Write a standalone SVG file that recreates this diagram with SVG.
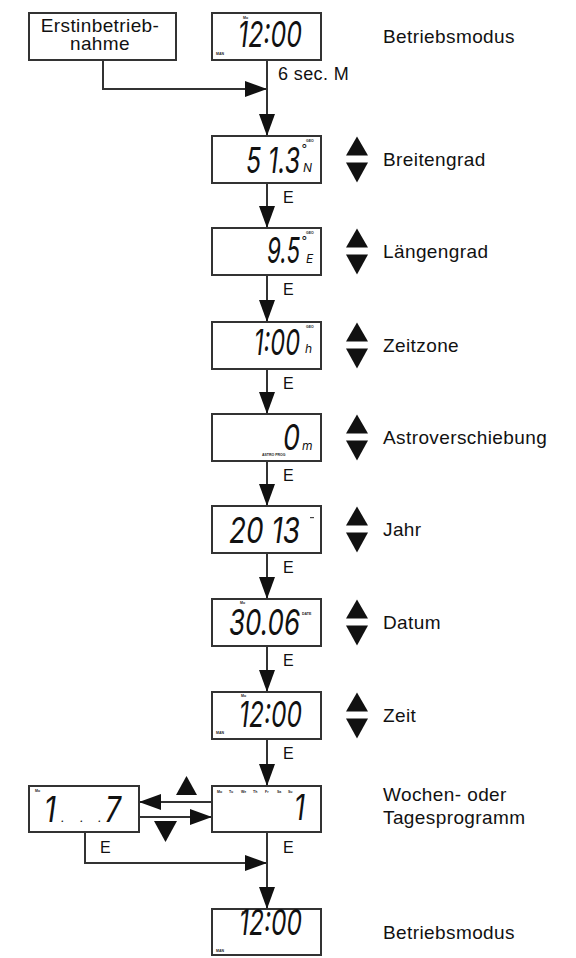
<svg xmlns="http://www.w3.org/2000/svg" xmlns:xlink="http://www.w3.org/1999/xlink" width="576" height="958" viewBox="0 0 576 958">
<style>
.box{fill:#fff;stroke:#333;stroke-width:2}
.ln{fill:none;stroke:#333;stroke-width:2}
.lbl{font-family:"Liberation Sans",Arial,sans-serif;font-size:19px;letter-spacing:0.4px;fill:#111}
.e{font-family:"Liberation Sans",Arial,sans-serif;font-size:16px;fill:#111}
.sec{font-family:"Liberation Sans",Arial,sans-serif;font-size:18px;letter-spacing:0.4px;fill:#111}
.lcd{font-family:Inter,"DejaVu Sans",sans-serif;font-style:italic;font-weight:400;font-size:36px;fill:#111}
.sm{font-family:Inter,"DejaVu Sans",sans-serif;font-style:italic;font-weight:400;font-size:12px;fill:#111}
.tiny{font-family:"Liberation Sans",Arial,sans-serif;font-size:3.5px;font-weight:bold;fill:#222}
.tri{fill:#111}
</style>
<defs>
<marker id="arr" viewBox="0 0 22 16" refX="22" refY="8" markerWidth="22" markerHeight="16" markerUnits="userSpaceOnUse" orient="auto">
<path d="M0,0 L22,8 L0,16 z" fill="#111"/>
</marker>
<g id="ud">
<path class="tri" d="M-11,-4 L11,-4 L0,-23 z"/>
<path class="tri" d="M-11,3 L11,3 L0,23 z"/>
</g>
</defs>

<g id="connectors">
<path class="ln" d="M103,60 V89 H267" marker-end="url(#arr)"/>
<path class="ln" d="M267,60 V136" marker-end="url(#arr)"/>
<path class="ln" d="M267,183 V228" marker-end="url(#arr)"/>
<path class="ln" d="M267,275 V322" marker-end="url(#arr)"/>
<path class="ln" d="M267,369 V414" marker-end="url(#arr)"/>
<path class="ln" d="M267,461 V506" marker-end="url(#arr)"/>
<path class="ln" d="M267,553 V599" marker-end="url(#arr)"/>
<path class="ln" d="M267,646 V692" marker-end="url(#arr)"/>
<path class="ln" d="M267,739 V786" marker-end="url(#arr)"/>
<path class="ln" d="M212,802 H139" marker-end="url(#arr)"/>
<path class="ln" d="M139,817 H212" marker-end="url(#arr)"/>
<path class="ln" d="M85,832 V863 H267" marker-end="url(#arr)"/>
<path class="ln" d="M267,832 V909" marker-end="url(#arr)"/>
<path class="tri" d="M176,795 L197,795 L186.5,776 z"/>
<path class="tri" d="M154,821 L177,821 L165.5,842 z"/>
<text class="sec" x="278" y="80">6 sec. M</text>
<text class="e" x="283" y="203">E</text>
<text class="e" x="283" y="295">E</text>
<text class="e" x="283" y="389">E</text>
<text class="e" x="283" y="481">E</text>
<text class="e" x="283" y="573">E</text>
<text class="e" x="283" y="666">E</text>
<text class="e" x="283" y="759">E</text>
<text class="e" x="283" y="853">E</text>
<text class="e" x="100" y="853">E</text>
</g>

<g id="erstinbetriebnahme">
<rect class="box" x="29" y="13" width="147" height="47"/>
<text class="lbl" x="100" y="32" text-anchor="middle">Erstinbetrieb-</text>
<text class="lbl" x="100" y="50" text-anchor="middle">nahme</text>
</g>

<g id="betriebsmodus1">
<rect class="box" x="212" y="13" width="109" height="47"/>
<text class="lcd" x="238" y="47" textLength="64" lengthAdjust="spacingAndGlyphs">12:00</text>
<text class="tiny" x="243" y="19">Mo</text>
<text class="tiny" x="216" y="55">MAN</text>
<text class="lbl" x="383" y="43">Betriebsmodus</text>
</g>

<g id="breitengrad">
<rect class="box" x="212" y="136" width="109" height="47"/>
<text class="lcd" x="246" y="173" textLength="54" lengthAdjust="spacingAndGlyphs">5 1.3</text>
<text class="tiny" x="306" y="142">GEO</text>
<text class="sm" x="301" y="153" font-size="9">°</text>
<text class="sm" x="303" y="172" font-size="13">N</text>
<use xlink:href="#ud" x="357" y="159.5"/>
<text class="lbl" x="383" y="166">Breitengrad</text>
</g>

<g id="laengengrad">
<rect class="box" x="212" y="228" width="109" height="47"/>
<text class="lcd" x="267" y="263" textLength="33" lengthAdjust="spacingAndGlyphs">9.5</text>
<text class="tiny" x="306" y="234">GEO</text>
<text class="sm" x="301" y="245" font-size="9">°</text>
<text class="sm" x="306" y="263" font-size="12">E</text>
<use xlink:href="#ud" x="357" y="251.5"/>
<text class="lbl" x="383" y="258">Längengrad</text>
</g>

<g id="zeitzone">
<rect class="box" x="212" y="322" width="109" height="47"/>
<text class="lcd" x="254" y="355" textLength="46" lengthAdjust="spacingAndGlyphs">1:00</text>
<text class="tiny" x="306" y="328">GEO</text>
<text class="sm" x="305" y="353" font-size="12">h</text>
<use xlink:href="#ud" x="357" y="345.5"/>
<text class="lbl" x="383" y="352">Zeitzone</text>
</g>

<g id="astroverschiebung">
<rect class="box" x="212" y="414" width="109" height="47"/>
<text class="lcd" x="283" y="450" textLength="17" lengthAdjust="spacingAndGlyphs">0</text>
<text class="sm" x="302" y="450" font-size="11">m</text>
<text class="tiny" x="262" y="456">ASTRO  PROG</text>
<use xlink:href="#ud" x="357" y="437.5"/>
<text class="lbl" x="383" y="444">Astroverschiebung</text>
</g>

<g id="jahr">
<rect class="box" x="212" y="506" width="109" height="47"/>
<text class="lcd" x="229" y="543" textLength="71" lengthAdjust="spacingAndGlyphs">20 13</text>
<rect x="310" y="517" width="4" height="1.2" fill="#444"/>
<use xlink:href="#ud" x="357" y="529.5"/>
<text class="lbl" x="383" y="536">Jahr</text>
</g>

<g id="datum">
<rect class="box" x="212" y="599" width="109" height="47"/>
<text class="lcd" x="229" y="635" textLength="71" lengthAdjust="spacingAndGlyphs">30.06</text>
<text class="tiny" x="240" y="604">Mo</text>
<text class="tiny" x="302" y="615">DATE</text>
<use xlink:href="#ud" x="357" y="622.5"/>
<text class="lbl" x="383" y="629">Datum</text>
</g>

<g id="zeit">
<rect class="box" x="212" y="692" width="109" height="47"/>
<text class="lcd" x="239" y="727" textLength="63" lengthAdjust="spacingAndGlyphs">12:00</text>
<text class="tiny" x="241" y="697">Mo</text>
<text class="tiny" x="216" y="734">MAN</text>
<use xlink:href="#ud" x="357" y="715.5"/>
<text class="lbl" x="383" y="722">Zeit</text>
</g>

<g id="wochenprogramm">
<rect class="box" x="212" y="786" width="109" height="46"/>
<text class="tiny" y="793"><tspan x="217">Mo</tspan><tspan x="229">Tu</tspan><tspan x="241">We</tspan><tspan x="253">Th</tspan><tspan x="265">Fr</tspan><tspan x="277">Sa</tspan><tspan x="288">Su</tspan></text>
<text class="lcd" x="294" y="820" textLength="11" lengthAdjust="spacingAndGlyphs">1</text>
<text class="lbl" x="383" y="801">Wochen- oder</text>
<text class="lbl" x="383" y="824">Tagesprogramm</text>
</g>

<g id="tage">
<rect class="box" x="29" y="786" width="110" height="46"/>
<text class="tiny" x="35" y="792">Mo</text>
<text class="lcd" x="44" y="822" textLength="12" lengthAdjust="spacingAndGlyphs">1</text>
<text class="lcd" x="105" y="822" textLength="16" lengthAdjust="spacingAndGlyphs">7</text>
<text class="sm" x="61" y="822" font-size="14">.</text>
<text class="sm" x="80" y="822" font-size="14">.</text>
<text class="sm" x="98" y="822" font-size="14">.</text>
</g>

<g id="betriebsmodus2">
<rect class="box" x="212" y="909" width="109" height="46"/>
<text class="lcd" x="239" y="935" textLength="63" lengthAdjust="spacingAndGlyphs">12:00</text>
<text class="tiny" x="242" y="914">Mo</text>
<text class="tiny" x="216" y="952">MAN</text>
<text class="lbl" x="383" y="939">Betriebsmodus</text>
</g>
</svg>
